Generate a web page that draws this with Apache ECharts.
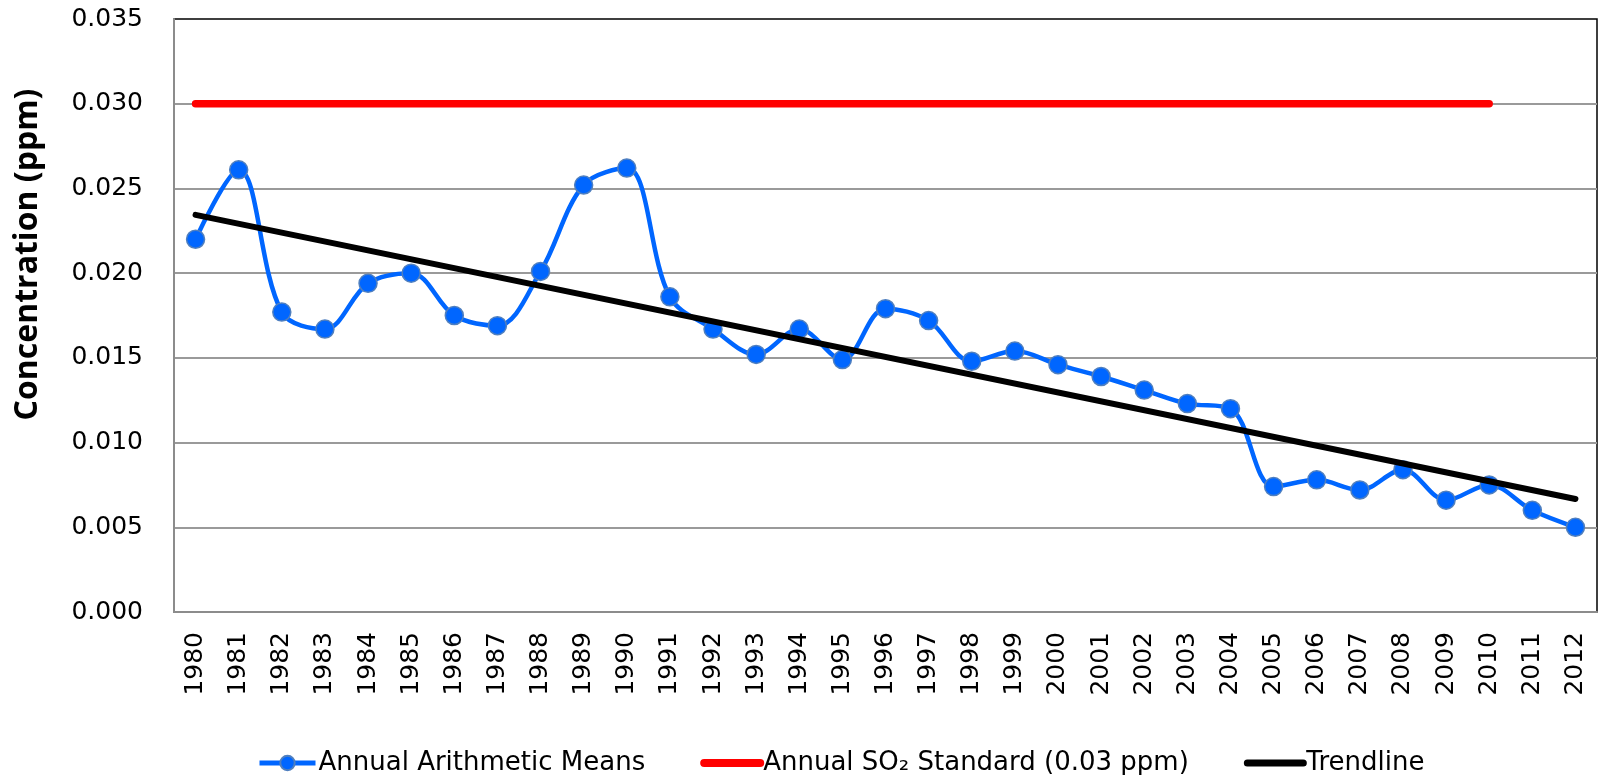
<!DOCTYPE html>
<html>
<head>
<meta charset="utf-8">
<title>Annual SO2 Concentration</title>
<script src="https://cdn.jsdelivr.net/npm/echarts@6/dist/echarts.min.js"></script>
<style>
  html, body { margin: 0; padding: 0; background: #fff; }
  #chart { width: 1598px; height: 775px; }
</style>
</head>
<body>
<div id="chart"></div>
<script>
'use strict';

// years on the category axis
var years = ['1980', '1981', '1982', '1983', '1984', '1985', '1986', '1987', '1988', '1989',
  '1990', '1991', '1992', '1993', '1994', '1995', '1996', '1997', '1998', '1999',
  '2000', '2001', '2002', '2003', '2004', '2005', '2006', '2007', '2008', '2009',
  '2010', '2011', '2012'];

// annual arithmetic means (ppm)
var annualMeans = [0.0220, 0.0261, 0.0177, 0.0167, 0.0194, 0.0200, 0.0175, 0.0169, 0.0201, 0.0252,
  0.0262, 0.0186, 0.0167, 0.0152, 0.0167, 0.0149, 0.0179, 0.0172, 0.0148, 0.0154,
  0.0146, 0.0139, 0.0131, 0.0123, 0.0120, 0.0074, 0.0078, 0.0072, 0.0084, 0.0066,
  0.0075, 0.0060, 0.0050];

// annual SO2 standard, drawn from 1980 through 2010
var standard = [0.03, 0.03, 0.03, 0.03, 0.03, 0.03, 0.03, 0.03, 0.03, 0.03,
  0.03, 0.03, 0.03, 0.03, 0.03, 0.03, 0.03, 0.03, 0.03, 0.03,
  0.03, 0.03, 0.03, 0.03, 0.03, 0.03, 0.03, 0.03, 0.03, 0.03,
  0.03, null, null];

// trendline end points (1980 and 2012), the rest is joined straight
var trendline = [0.02344, null, null, null, null, null, null, null, null, null,
  null, null, null, null, null, null, null, null, null, null,
  null, null, null, null, null, null, null, null, null, null,
  null, null, 0.00667];

var yTicks = { min: 0, max: 0.035, step: 0.005 };

var seriesNames = ['Annual Arithmetic Means', 'Annual SO\u2082 Standard (0.03 ppm)', 'Trendline'];

(function() {
  var chart = echarts.init(document.getElementById('chart'), null, { renderer: 'canvas' });
  var tickFont = 'DejaVu Sans';

  chart.setOption({
    animation: false,
    backgroundColor: '#fff',
    grid: {
      left: 174, right: 1, top: 19, bottom: 163,
      show: true, borderColor: '#000', borderWidth: 1.5, backgroundColor: 'transparent'
    },
    legend: {
      left: 252, top: 745,
      itemWidth: 56, itemHeight: 18, itemGap: 55,
      textStyle: { fontFamily: tickFont, fontSize: 26, color: '#000', padding: [0, 0, 0, -2] },
      data: [
        { name: seriesNames[0], lineStyle: { width: 5 } },
        {
          name: seriesNames[1], itemStyle: { opacity: 0 }, lineStyle: { width: 8, cap: 'round' },
          textStyle: { width: 416, overflow: 'none' }
        },
        { name: seriesNames[2], itemStyle: { opacity: 0 }, lineStyle: { width: 7, cap: 'round' } }
      ]
    },
    xAxis: {
      type: 'category',
      data: years,
      boundaryGap: true,
      axisLine: { lineStyle: { color: '#8c8c8c', width: 2 } },
      axisTick: { alignWithLabel: true, length: 8, lineStyle: { color: '#8c8c8c', width: 2 } },
      axisLabel: {
        rotate: 90, margin: 20, interval: 0,
        fontFamily: tickFont, fontSize: 25, color: '#000'
      },
      splitLine: { show: false }
    },
    yAxis: {
      type: 'value',
      min: yTicks.min, max: yTicks.max, interval: yTicks.step,
      name: 'Concentration (ppm)',
      nameLocation: 'middle',
      nameGap: 130,
      nameRotate: 90,
      nameTextStyle: {
        fontFamily: 'Open Sans', fontWeight: 'bold', fontSize: 32, color: '#000',
        padding: [0, 0, 0, 122]
      },
      axisLine: { show: true, lineStyle: { color: '#8c8c8c', width: 2 } },
      axisTick: { show: false },
      axisLabel: {
        margin: 31, fontFamily: tickFont, fontSize: 25, color: '#000',
        formatter: function(v) { return v.toFixed(3); }
      },
      splitLine: { show: true, showMaxLine: false, lineStyle: { color: '#9a9a9a', width: 2 } }
    },
    series: [
      {
        name: seriesNames[0],
        type: 'line',
        data: annualMeans,
        smooth: 0.35,
        symbol: 'circle',
        symbolSize: 18,
        lineStyle: { color: '#0066ff', width: 4.5 },
        itemStyle: { color: '#0066ff', borderColor: '#4f7fbf', borderWidth: 1.5 },
        z: 2
      },
      {
        name: seriesNames[1],
        type: 'line',
        data: standard,
        symbol: 'none',
        lineStyle: { color: '#ff0000', width: 7.5, cap: 'round' },
        itemStyle: { color: '#ff0000' },
        z: 3
      },
      {
        name: seriesNames[2],
        type: 'line',
        data: trendline,
        connectNulls: true,
        symbol: 'none',
        lineStyle: { color: '#000', width: 6, cap: 'round' },
        itemStyle: { color: '#000' },
        z: 4
      }
    ]
  });

  window.addEventListener('resize', function() { chart.resize(); });
})();
</script>
</body>
</html>
